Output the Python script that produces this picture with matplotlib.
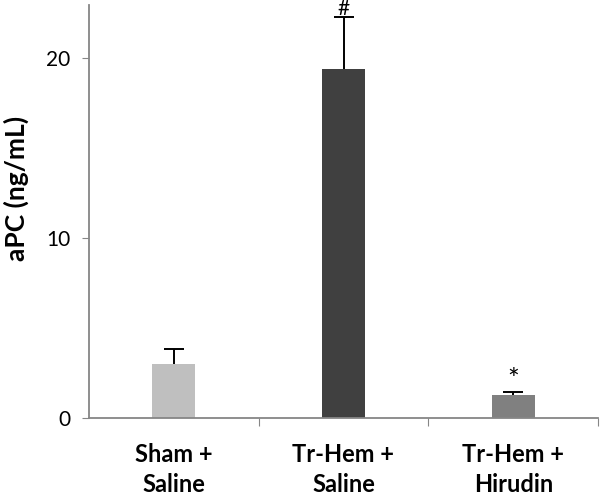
import matplotlib.pyplot as plt
import numpy as np

plt.rcParams['font.family'] = ['Lato', 'DejaVu Sans']

groups = ['Sham +\nSaline', 'Tr-Hem +\nSaline', 'Tr-Hem +\nHirudin']
apc = [3.0, 19.4, 1.25]
err = [0.85, 2.9, 0.22]
marks = ['', '#', '*']
mark_sizes = [0, 15, 20]
colors = ['#bfbfbf', '#404040', '#808080']

fig = plt.figure(figsize=(6, 4.97), dpi=100)
ax = fig.add_axes([0.148, 0.159, 0.849, 0.831])

x = np.arange(len(groups))
tops = np.array(apc) + np.array(err)
ax.bar(x, apc, width=0.25, color=colors, zorder=2)
# upper error bars only: stem plus top cap
ax.vlines(x, apc, tops, color='black', linewidth=1.4, zorder=3)
ax.plot(x, tops, linestyle='none', marker='_', markersize=14,
        markeredgewidth=1.4, color='black', zorder=3)

for xi, t, m, fs in zip(x, tops, marks, mark_sizes):
    if m:
        ax.text(xi, t + 0.12, m, ha='center', va='baseline', fontsize=fs,
                clip_on=False)

ax.set_xlim(-0.5, 2.5)
ax.set_ylim(0, 22.95)
ax.set_yticks([0, 10, 20])
ax.tick_params(axis='y', labelsize=15, length=5, color='#868686', pad=8)

# ticks at category boundaries, labels in between
ax.set_xticks([0.5, 1.5, 2.5])
ax.set_xticklabels([])
ax.set_xticks(x, minor=True)
ax.set_xticklabels(groups, minor=True, fontsize=17, fontweight='bold',
                   linespacing=1.35)
ax.tick_params(axis='x', which='major', length=6, color='#868686')
ax.tick_params(axis='x', which='minor', length=0, pad=18)

for s in ['top', 'right']:
    ax.spines[s].set_visible(False)
for s in ['left', 'bottom']:
    ax.spines[s].set_color('#868686')
    ax.spines[s].set_linewidth(1.3)

ax.set_ylabel('aPC (ng/mL)', fontsize=19, fontweight='bold')
ax.yaxis.set_label_coords(-0.118, 0.555)

fig.savefig('out.png')
